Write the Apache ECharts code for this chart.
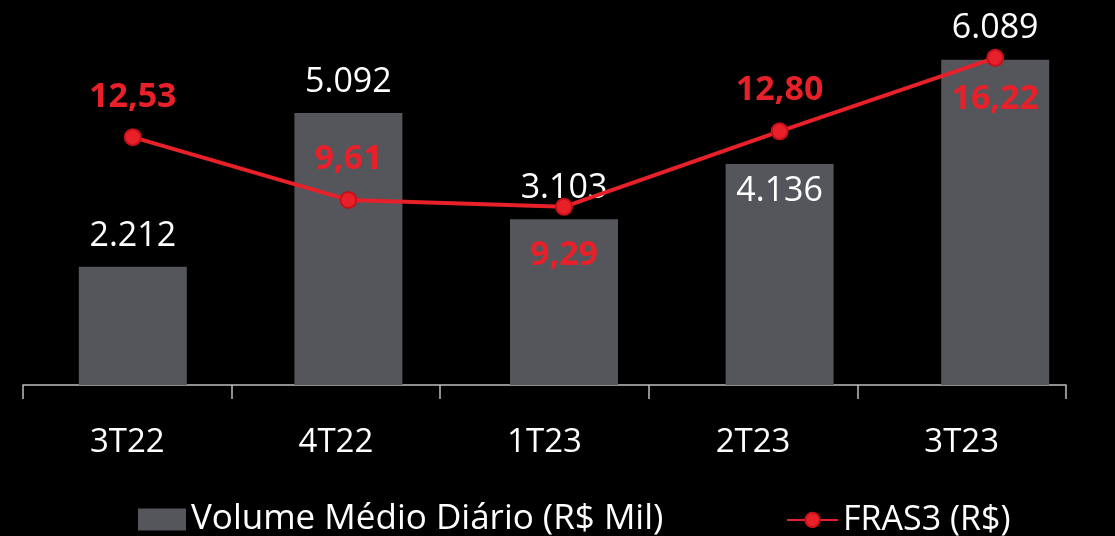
<!DOCTYPE html>
<html>
<head>
<meta charset="utf-8">
<script src="https://cdn.jsdelivr.net/npm/echarts@6/dist/echarts.min.js"></script>
<style>
html,body{margin:0;padding:0;background:#000;}
#c{width:1115px;height:536px;}
</style>
</head>
<body>
<div id="c"></div>
<script>
var categories = ['3T22', '4T22', '1T23', '2T23', '3T23'];
var volume = [2212, 5092, 3103, 4136, 6089];
var fras3 = [12.53, 9.61, 9.29, 12.80, 16.22];
var barLabelPos = ['top', 'top', 'top', 'insideTop', 'top'];
var barLabelDist = [14, 14, 14, 10, 14];
var lineLabelPos = ['top', 'top', 'bottom', 'top', 'bottom'];
var lineLabelDist = [14, 15, 22, 15, 15];

var FONT = '"Open Sans", "Noto Sans", sans-serif';
var chart = echarts.init(document.getElementById('c'), null, {renderer: 'canvas'});

function fmtVol(v) {
  return String(v).replace(/\B(?=(\d{3})+(?!\d))/g, '.');
}
function fmtPrice(v) {
  return v.toFixed(2).replace('.', ',');
}

var barData = volume.map(function (v, i) {
  return {value: v, label: {position: barLabelPos[i], distance: barLabelDist[i]}};
});
var lineData = fras3.map(function (v, i) {
  return {value: v, label: {position: lineLabelPos[i], distance: lineLabelDist[i]}};
});

chart.setOption({
  backgroundColor: '#000000',
  animation: false,
  textStyle: {fontFamily: FONT},
  grid: [
    {left: 25, right: 12, top: 11, bottom: 151},
    {left: 23, right: 49, top: 11, bottom: 151}
  ],
  legend: [
    {
      left: 133, bottom: -6,
      itemWidth: 48, itemHeight: 22,
      textStyle: {color: '#ffffff', fontSize: 35, fontFamily: FONT},
      data: [{name: 'Volume Médio Diário (R$ Mil)', icon: 'rect'}]
    },
    {
      left: 781, bottom: -6,
      itemWidth: 51, itemHeight: 18,
      textStyle: {color: '#ffffff', fontSize: 34, fontFamily: FONT},
      data: [{name: 'FRAS3 (R$)'}]
    }
  ],
  xAxis: [
    {
      type: 'category', gridIndex: 0, data: categories,
      axisLine: {show: false}, axisTick: {show: false}, axisLabel: {show: false}
    },
    {
      type: 'category', gridIndex: 1, data: categories,
      axisLine: {show: true, lineStyle: {color: '#bfbfbf', width: 1.5}},
      axisTick: {show: true, length: 14, lineStyle: {color: '#bfbfbf', width: 1.5}},
      axisLabel: {color: '#ffffff', fontSize: 33, margin: 41, fontFamily: FONT}
    }
  ],
  yAxis: [
    {type: 'value', gridIndex: 0, min: 0, max: 7000, show: false, splitLine: {show: false}},
    {type: 'value', gridIndex: 0, min: 1, max: 18.4, show: false, splitLine: {show: false}},
    {type: 'value', gridIndex: 1, min: 0, max: 1, show: false, splitLine: {show: false}}
  ],
  series: [
    {
      name: 'Volume Médio Diário (R$ Mil)',
      type: 'bar',
      xAxisIndex: 0, yAxisIndex: 0,
      barWidth: 108,
      itemStyle: {color: '#55565b'},
      label: {
        show: true, color: '#ffffff', fontSize: 34, fontFamily: FONT,
        formatter: function (p) { return fmtVol(p.value); }
      },
      data: barData
    },
    {
      name: 'FRAS3 (R$)',
      type: 'line',
      xAxisIndex: 0, yAxisIndex: 1,
      symbol: 'circle',
      symbolSize: 16,
      lineStyle: {color: '#e8202a', width: 4},
      itemStyle: {color: '#e8202a', borderColor: '#c8101a', borderWidth: 2},
      label: {
        show: true, color: '#e8202a', fontSize: 34, fontWeight: 'bold', fontFamily: FONT,
        formatter: function (p) { return fmtPrice(p.value); }
      },
      data: lineData,
      z: 5
    }
  ]
});
</script>
</body>
</html>
